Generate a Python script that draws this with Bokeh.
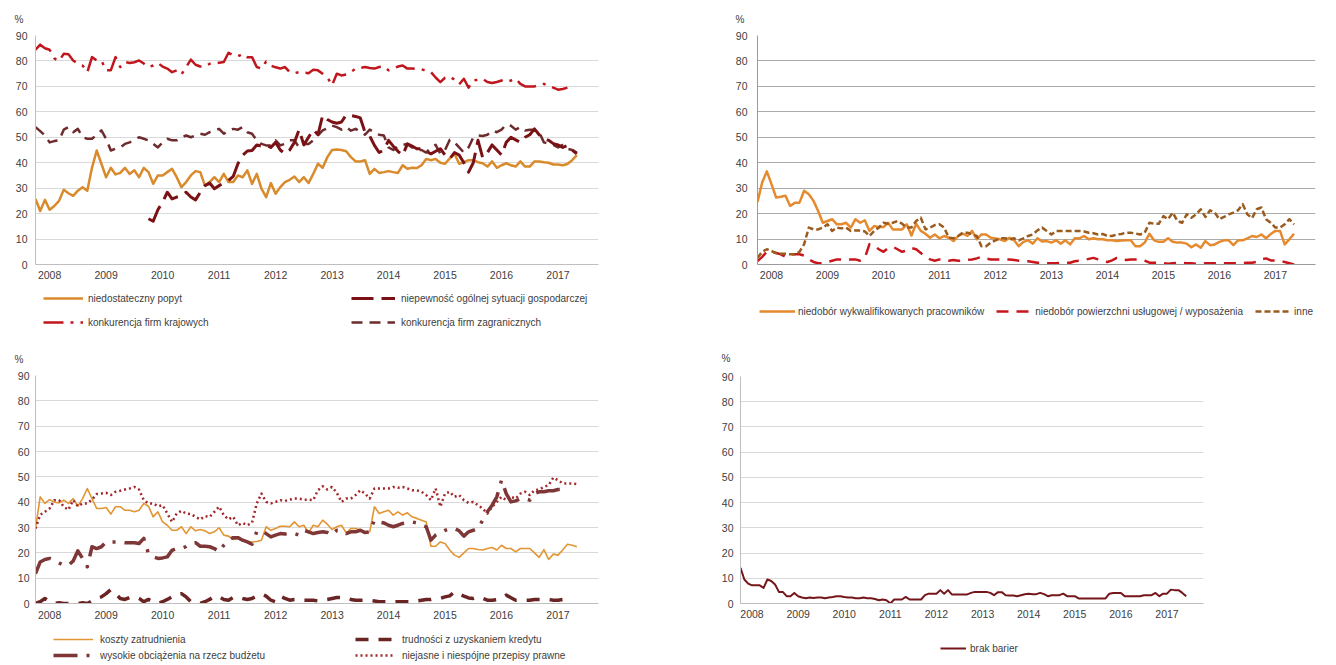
import numpy as np
from bokeh.plotting import figure
from bokeh.layouts import column, row
from bokeh.models import Range1d, Legend, LegendItem, FixedTicker
from bokeh.embed import file_html
from bokeh.resources import INLINE

NaN = float("nan")

# ---------------- data ----------------
years = ["2008", "2009", "2010", "2011", "2012", "2013", "2014", "2015", "2016", "2017"]
year_ticks = [3, 15, 27, 39, 51, 63, 75, 87, 99, 111]

# panel 1
popyt = [25.8, 21, 25.4, 21.5, 23, 25, 29.4, 28, 27, 29, 30.4, 29, 38, 44.8, 39.6, 34.3, 38, 35.4, 36, 38,
         35.6, 37, 34.3, 38, 36.3, 31.7, 35, 35, 36.3, 37.6, 34.3, 30.4, 32.4, 35, 36.7, 36.3, 31, 32.4, 34.3, 32.4,
         35.6, 32.4, 32.4, 35, 34.3, 37, 31.7, 35.6, 29.8, 26.5, 32, 27.8, 30.4, 32.4, 33.3, 34.6, 32.4, 34.3, 32, 35.6,
         39.6, 38, 42.2, 45, 45.2, 45, 44.5, 42.2, 40.5, 40.5, 41, 35.6, 37.6, 36, 36.3, 36.7, 36.3, 36, 39, 37.6,
         38, 37.9, 39, 41.5, 41, 41.5, 40, 39.6, 41.7, 43.5, 39.6, 40.2, 41, 41, 40.2, 39.8, 38.5, 40.5, 38, 39,
         39.8, 39, 38.5, 40.5, 38.5, 38.5, 40.5, 40.5, 40.2, 40, 39.3, 39.3, 39, 39.5, 41, 43]
niepewnosc = [NaN] * 24 + [
    18, 17, 21.5, 24.5, 28.4, 25.8, 26.5, 27, 28.4, 26.5,
    25.4, 28.4, 31, 32, 29.8, 31, 32, 33, 34.6, 39.6,
    42.9, 44.6, 44.8, 47, 46.5, 47, 46, 48, 45, 43.5,
    45, 48, 53, 47, 50, 53, 51, 58.6, 57, 56,
    55.5, 56, 58.8, 58.5, 58.2, 57.6, 52, 50.5, 46.8, 44,
    45, 48.8, 46.5, 44.5, 42.9, 47.4, 46.5, 45.5, 45.5, 44.5,
    43.5, 44.5, 45.5, 43, 41.5, 44, 43, 40, 36.3, 40,
    48.8, 42, 44, 47, 45, 43, 48, 50, 49, 48,
    50, 51, 53.3, 51, 49.5, 48.8, 47.5, 47, 46, 46.8,
    45, 43.5]
krajowe = [84.4, 86.4, 85, 84.4, 81, 80, 82.8, 82.6, 80.2, 79,
           78.2, 75.6, 81.5, 80.2, 80.2, 76.3, 76.3, 81.5, 77.6, 79.6,
           79.2, 79.5, 80.2, 79, 77.6, 78.2, 79.2, 77.8, 77, 75.6,
           76.3, 74.7, 77.6, 80.5, 78.5, 77.8, 77.8, 78.9, 79, 79.3,
           79.6, 83.2, 82.2, 81.8, 82.8, 81.5, 81.5, 77.6, 77, 79.8,
           78.2, 77.5, 77, 77.6, 75.6, 75.2, 75.6, 75.4, 75.2, 76.5,
           76.3, 75, 73.6, 70.4, 75, 74.3, 74.7, 75.6, 77, 77.3,
           77.6, 77.2, 77, 77.6, 77.8, 76.3, 77, 77.8, 78.2, 77,
           77, 76.8, 76.7, 76.2, 75.6, 73.5, 71.7, 73.4, 73.9, 72.6,
           70.8, 73, 69.5, 72.3, 72.6, 73, 71.7, 71.3, 71.7, 72.3,
           71.7, 72.3, 73, 71, 70, 70, 70, 70.5, 71, 70,
           69.5, 68.7, 69, 69.5]
zagraniczne = [54, 52.4, 50.7, 48, 48.5, 48.8, 53, 54, 52, 53.3,
               50, 49.4, 49.4, 51, 52.7, 49.4, 44.8, 45.5, 46, 47.4,
               48, 49, 50, 49.4, 48.8, 47.4, 46, 48, 49.4, 48.8,
               48.8, 50, 50.7, 50, 50.7, 51.4, 51, 52, 52.7, 53.3,
               51.4, 52.7, 53.3, 53, 54, 52, 51.4, 48.8, 47.4, 46.8,
               46.8, 48.8, 46.8, 47.4, 48.8, 48.8, 46, 47.4, 47.4, 48.8,
               50.7, 52.7, 53.5, 54.6, 54, 53, 54, 52.6, 53.3, 52,
               51, 53, 52, 51, 50.7, 46, 45, 46.5, 47, 47.4,
               46, 45, 45, 44, 46, 47, 43.5, 45, 49, 48,
               46, 44, 46, 50, 50.7, 50.5, 51, 52.6, 52, 53,
               55, 54.5, 53, 54, 52.7, 53, 53, 52, 48, 47.5,
               47, 46, 47, 45.5, 45, 44]

# panel 2
pracownicy = [24.6, 32.2, 36.6, 31.6, 26.3, 26.6, 27, 23, 24.3, 24.3,
              29, 27.6, 25, 21, 16.4, 17.1, 17.8, 15.8, 15.8, 16.4,
              14.5, 17.8, 16.4, 17.4, 13.2, 15.1, 14.7, 14.7, 16.4, 13.8,
              13.8, 13.8, 15.8, 11.4, 16, 13.2, 12.1, 10.5, 11.8, 10.3,
              11.2, 10.5, 9.2, 11.2, 12.1, 11.2, 13.2, 9.9, 11.8, 11.8,
              10.5, 10.2, 9.9, 9.2, 10.5, 9.5, 7.2, 8.9, 9.5, 8.2,
              10.3, 9, 9.2, 8.6, 9.5, 8.2, 9.5, 7.9, 10.3, 10.3,
              11.2, 9.9, 10.3, 9.9, 9.9, 9.5, 9.5, 9.2, 9.4, 9.5, 9.5,
              7.2, 7.2, 8.6, 12.1, 9.5, 8.9, 8.9, 10.3, 8.9, 8.6,
              8.6, 8.2, 6.8, 7.9, 6.6, 9.2, 7.6, 7.9, 8.9, 9.5,
              9.5, 7.6, 9.5, 9.5, 10.3, 11.2, 10.8, 11.8, 10.3, 12,
              13.2, 13.2, 7.9, 9.9, 12.1]
powierzchnia = [1.3, 3, 5, 5, 4.5, 4, 3, 4, 4, 4,
                3.5, 2, 1, 0.5, 0.5, 1, 1.5, 2, 2, 2,
                2, 2, 1.5, 2.5, 8, 7.5, 6, 5, 6.5, 7,
                6, 5, 5.5, 6.5, 6, 4.5, 3, 2, 1.5, 2,
                1.5, 1.5, 1.8, 1.5, 1.5, 1.8, 2, 2.4, 3, 2.4,
                2, 2, 2, 2, 2, 1.8, 1.5, 1.3, 1.3, 1,
                0.7, 0.7, 0.5, 0.5, 0.5, 0.7, 0.7, 0.7, 1.3, 1.5,
                1.8, 2.2, 2.6, 2, 1.3, 1, 1.6, 2.6, 2, 1.8,
                2, 2, 2, 1.5, 0.7, 0.7, 0.7, 0.5, 0.3, 0.5,
                0.7, 0.7, 0.5, 0.5, 0.3, 0.3, 0.5, 0.5, 0.5, 0.5,
                0.5, 0.5, 0.5, 0.5, 0.5, 0.7, 0.7, 1, 2, 2.4,
                1.6, 1.6, 1.3, 1, 0.5, 0]
inne = [2.6, 5, 6, 5.3, 4.5, 4.2, 4.2, 4, 4, 5,
        8, 14.5, 13.8, 13.8, 14.5, 15.8, 13.2, 14.5, 14.2, 14.5,
        13.2, 13.4, 13.4, 13, 11.2, 13.2, 14.5, 16.4, 16, 16.4,
        17.1, 16, 14.5, 14.5, 17.1, 18.4, 13.8, 14.5, 15.5, 15.8,
        14.5, 10.5, 10.3, 11.2, 12.5, 12.5, 11.8, 11.2, 7.2, 7.2,
        8.6, 9.5, 10.3, 10.3, 9.9, 10.3, 9.5, 10.3, 11.2, 11.8,
        13.4, 14.5, 13.2, 11.8, 13.2, 13.2, 13.2, 13.2, 13.2, 13.2,
        13, 12.5, 12.3, 11.8, 12, 11.2, 11.2, 11.8, 12, 12.5,
        12.5, 12.2, 11.8, 12.5, 16.4, 16, 16, 19, 17.8, 20.4,
        17.1, 16.4, 19.7, 18.4, 19.7, 21.7, 18.7, 21.3, 20.4, 17.8,
        18.7, 19.7, 20.4, 21.3, 23.7, 19.7, 18.2, 21.7, 22.4, 17.8,
        16.4, 14.5, 14.5, 15.8, 17.8, 15.8]

# panel 3
koszty = [29.6, 42.1, 39.5, 41, 40, 39.7, 40.8, 39.5, 41.4, 38.4,
          41.4, 45.4, 41.4, 37.5, 37.5, 37.9, 35.3, 38.2, 38.2, 36.8,
          36.8, 36.2, 36.8, 39.5, 38.4, 34.2, 36.2, 32.2, 30.9, 28.9,
          28.9, 30.3, 27.6, 30.3, 28.7, 29.2, 28.7, 27.6, 28.3, 29.9,
          27, 26.6, 25.3, 25.7, 24.7, 24.3, 24.3, 24.5, 25, 30.3,
          28.9, 29.6, 30.5, 30.5, 30.3, 32.2, 30.3, 30.9, 27.9, 30.9,
          30.3, 32.9, 31.3, 29.2, 30.3, 30.9, 27.9, 29.6, 29.6, 29,
          28.3, 28.3, 38.2, 35.5, 36.2, 36.8, 34.9, 36.2, 34.9, 35.8,
          34.2, 33.6, 32.9, 32.2, 22.6, 22.6, 24.3, 23.7, 21.1, 19.1,
          18.2, 20, 21.7, 21.7, 21.3, 21.1, 21.7, 22.1, 21.1, 23,
          21.7, 21.7, 20.4, 21.7, 21.7, 21.7, 20, 18.2, 21.3, 17.4,
          19.5, 19.1, 21.1, 23.4, 23, 22.4]
kredyt = [0, 0.7, 2, 0.7, 0, 0.3, 0, 0, 0.3, 0,
          0.3, 0, 1, 2, 2.6, 3.9, 5.5, 3.9, 2, 1.6,
          2.4, 2.6, 2, 0.7, 1.6, 0.7, 0, 0.7, 1.6, 2.6,
          3.7, 3.9, 2.6, 0.7, 0, 0, 0.7, 1.6, 2.9, 2.6,
          1.6, 1.3, 2.4, 2.6, 2, 1.6, 2, 2.9, 3.7, 2.9,
          1.3, 0.7, 2.9, 2, 1.3, 1.6, 1.6, 1.3, 1.3, 1.3,
          1, 1.3, 1.6, 2, 2.4, 2.4, 2.4, 1.6, 1.3, 1.3,
          1.3, 1.3, 1, 0.7, 0.7, 0.7, 0.7, 0.7, 0.7, 0.7,
          0.7, 1, 1.3, 1.6, 1.6, 2, 2, 2.6, 3, 4.6,
          3.7, 2.9, 2.2, 2, 2.6, 2, 1.3, 1.3, 1.5, 2,
          3.3, 2.3, 1.3, 1.3, 1.3, 1.3, 1.6, 1.6, 1.6, 1.6,
          1.3, 1.3, 1.6, 1.6]
budzet = [11.8, 16.4, 17.4, 17.8, 17, 16, 15.1, 15.1, 16.8, 20.8,
          17.8, 14.5, 22.4, 21.7, 22.4, 24.3, 24.3, 24.3, 24.3, 24,
          24, 24, 23.7, 25.7, 19.7, 18.4, 17.8, 18, 18.4, 21,
          21.7, 21.7, 22.5, 23.7, 24, 22.6, 22.6, 22.4, 21.7, 20.4,
          23, 25, 26, 26, 25, 24.3, 23.4, 28.3, 28.9, 27.6,
          26.3, 27, 27.6, 27.4, 27.9, 27.6, 27, 28.9, 28.3, 27.6,
          28, 28.3, 28, 27, 28.9, 28.8, 27.6, 28.3, 28.3, 28.9,
          28, 28.3, 32.9, 32.2, 31.8, 30.9, 30.3, 30.9, 31.6, 32,
          32.2, 31.8, 30.9, 30.3, 25, 27, 27.9, 28.9, 29.6, 29.6,
          28.7, 26.6, 28.3, 28.9, 29.6, 32.9, 36.2, 38.8, 42.1, 48.7,
          43.4, 40.1, 40.5, 41.4, 41.4, 40.8, 43.4, 44.1, 44.1, 44.5,
          44.5, 45, 45, 44.5]
przepisy = [29.6, 35, 36.2, 37.5, 40.8, 40.8, 38.2, 37, 40.8, 38.4,
            39.5, 39.5, 41, 43.2, 43.4, 43.7, 42.8, 44.1, 44.5, 45,
            45.4, 46, 45, 40.8, 39.5, 39.5, 38.4, 38.8, 35.5, 32.2,
            35.5, 36.6, 35.5, 35.3, 34.2, 33.2, 34.5, 34.2, 36.2, 38.2,
            34.9, 33.2, 34.2, 30.9, 31.8, 30.9, 31.8, 39.5, 43.4, 40.1,
            39.5, 40.1, 40.8, 40.5, 41, 41.4, 41.4, 41, 41, 40.8,
            44.7, 46.3, 45, 46, 43.7, 40.1, 41.4, 41.4, 42.8, 44.7,
            43.4, 41.4, 45.4, 45.4, 45.4, 45.4, 46, 45.7, 46, 45.4,
            44.7, 44.7, 44.1, 42.8, 40.8, 45.4, 38.2, 43.4, 44.1, 42.1,
            42.8, 40.8, 39.7, 40.1, 38.8, 37.5, 35.5, 38.2, 40.1, 42.1,
            40.8, 42.1, 41.4, 43.4, 44.1, 42.8, 44.7, 45, 46, 46.7,
            49.7, 48.7, 47.4, 47.4, 47.4, 47.1]

# panel 4
brak_barier = [14.1, 9.5, 7.9, 7.2, 7.2, 7.2, 6.2, 9.5, 8.9, 7.5,
               4.6, 4.6, 2.9, 2.9, 4.2, 2.9, 2.4, 2.1, 2.4, 2.2,
               2.4, 2.4, 2.1, 2.4, 2.6, 2.9, 2.9, 2.6, 2.4, 2.4,
               2.1, 2.1, 2.4, 2.1, 2.1, 1.8, 1.3, 1.6, 1.3, 0,
               1.6, 1.6, 1.6, 2.6, 1.6, 1.6, 1.6, 1.6, 3.3, 3.9,
               3.9, 3.9, 5.3, 3.9, 5.3, 3.6, 3.6, 3.6, 3.6, 3.6,
               4.2, 4.6, 4.6, 4.6, 4.6, 4.2, 3.3, 4.5, 4.5, 3.3,
               3.2, 3.2, 2.9, 3.3, 3.7, 3.9, 3.7, 3.7, 4.2, 3.7,
               2.9, 3.3, 3.3, 3.3, 3.9, 2.9, 2.9, 2.9, 2, 2,
               2, 2, 2, 2, 2, 2, 3.9, 4.2, 4.2, 4.2,
               2.9, 2.9, 2.9, 2.9, 2.9, 3.3, 3.3, 3.3, 4.2, 2.9,
               3.9, 3.9, 5.5, 5.3, 5.3, 4.2, 2.9]

FONT = "Liberation Sans"
TXT = "#404040"

# series styles: (colour, width, dash)
STY = {
    "popyt": ("#D98A2B", 2.5, "solid"),
    "niepewnosc": ("#7A1114", 3, "22 8"),
    "krajowe": ("#C0161E", 2.5, "20 7 3 7"),
    "zagraniczne": ("#6E2B2E", 2.5, "11 7"),
    "pracownicy": ("#E58A2E", 2.5, "solid"),
    "powierzchnia": ("#C8161D", 2.5, "12 8"),
    "inne": ("#9A5B1E", 2.5, "6 3"),
    "koszty": ("#E39534", 1.6, "solid"),
    "kredyt": ("#6A2424", 3.5, "13 10"),
    "budzet": ("#7E3636", 3.5, "24 9 3 9"),
    "przepisy": ("#A3262B", 2.5, "2 3"),
    "brak": ("#75161A", 2, "solid"),
}


def base_fig(fw, fh, bl, br, bt, bb, xmax, grid_col, axis_col, ystand, xstand, pct_off, pct_stand):
    p = figure(frame_width=fw, frame_height=fh,
               min_border_left=bl, min_border_right=br, min_border_top=bt, min_border_bottom=bb,
               x_range=Range1d(0, xmax), y_range=Range1d(0, 90),
               output_backend="svg", toolbar_location=None, tools="", title="%")
    p.title.align = "left"
    p.title.offset = pct_off
    p.title.standoff = pct_stand
    p.title.text_font = FONT
    p.title.text_font_size = "10px"
    p.title.text_font_style = "normal"
    p.title.text_color = TXT
    p.outline_line_color = None
    p.background_fill_color = "white"
    p.border_fill_color = "white"
    p.xgrid.grid_line_color = None
    yt = FixedTicker(ticks=list(range(0, 91, 10)))
    p.yaxis.ticker = yt
    p.ygrid.ticker = yt
    p.ygrid.grid_line_color = grid_col
    p.ygrid.grid_line_width = 1
    p.xaxis.ticker = FixedTicker(ticks=year_ticks)
    p.xaxis.major_label_overrides = {t: y for t, y in zip(year_ticks, years)}
    for ax in (p.xaxis[0], p.yaxis[0]):
        ax.major_tick_line_color = None
        ax.minor_tick_line_color = None
        ax.major_tick_out = 0
        ax.major_tick_in = 0
        ax.axis_line_color = axis_col
        ax.major_label_text_font = FONT
        ax.major_label_text_font_size = "10.5px"
        ax.major_label_text_color = TXT
    p.yaxis.major_label_standoff = ystand
    p.xaxis.major_label_standoff = xstand
    return p


def draw(p, key, vals):
    c, w, d = STY[key]
    return p.line(np.arange(len(vals), dtype=float), np.array(vals, dtype=float),
                  line_color=c, line_width=w, line_dash=d, line_join="round")


def legend_fig(w, h):
    # legend strip under a chart; its frame is aligned with the chart's frame by the column layout
    f = figure(width=w, height=h, x_range=Range1d(0, 1), y_range=Range1d(0, 1),
               x_axis_type=None, y_axis_type=None, output_backend="svg",
               toolbar_location=None, tools="", title=None,
               min_border_left=0, min_border_right=0, min_border_top=0, min_border_bottom=0)
    f.outline_line_color = None
    f.background_fill_color = "white"
    f.border_fill_color = "white"
    return f


def add_legend(f, entries, loc, orientation="vertical", gw=40, gh=14, standoff=5, spacing=10):
    items = []
    for label, key in entries:
        c, w, d = STY[key]
        r = f.line([NaN], [NaN], line_color=c, line_width=w, line_dash=d)
        items.append(LegendItem(label=label, renderers=[r]))
    lg = Legend(items=items, location=loc, orientation=orientation,
                glyph_width=gw, glyph_height=gh, label_height=gh, label_standoff=standoff,
                spacing=spacing, padding=0, margin=0,
                background_fill_alpha=0, border_line_alpha=0,
                label_text_font=FONT, label_text_font_size="10px", label_text_color=TXT)
    f.add_layout(lg, "center")


# ---------------- panel 1 ----------------
p1 = base_fig(563, 229, 35, 30, 35, 26, 119.6, "#D9D9D9", "#BFBFBF", 8, 6, -21, 22)
draw(p1, "popyt", popyt)
draw(p1, "krajowe", krajowe)
draw(p1, "zagraniczne", zagraniczne)
draw(p1, "niepewnosc", niepewnosc)
l1 = legend_fig(628, 45)
add_legend(l1, [("niedostateczny popyt", "popyt"), ("konkurencja firm krajowych", "krajowe")], (8, 6))
add_legend(l1, [("niepewność ogólnej sytuacji gospodarczej", "niepewnosc"),
                ("konkurencja firm zagranicznych", "zagraniczne")], (316, 6), gw=44, standoff=6)

# ---------------- panel 2 ----------------
p2 = base_fig(558, 229, 129, 21, 35, 26, 119.6, "#ABABAB", "#9A9A9A", 10, 6, -22, 22)
draw(p2, "pracownicy", pracownicy)
draw(p2, "powierzchnia", powierzchnia)
draw(p2, "inne", inne)
l2 = legend_fig(708, 45)
add_legend(l2, [("niedobór wykwalifikowanych pracowników", "pracownicy"),
                ("niedobór powierzchni usługowej / wyposażenia", "powierzchnia"),
                ("inne", "inne")], (2, 17), orientation="horizontal", gw=36, standoff=3, spacing=12)

# ---------------- panel 3 ----------------
p3 = base_fig(563, 228, 35, 30, 40, 26, 119.6, "#D9D9D9", "#BFBFBF", 6, 7, -21, 21)
draw(p3, "koszty", koszty)
draw(p3, "przepisy", przepisy)
draw(p3, "budzet", budzet)
draw(p3, "kredyt", kredyt)
l3 = legend_fig(628, 36)
add_legend(l3, [("koszty zatrudnienia", "koszty"), ("wysokie obciążenia na rzecz budżetu", "budzet")],
           (18, 4), gh=12, spacing=4, standoff=7)
add_legend(l3, [("trudności z uzyskaniem kredytu", "kredyt"),
                ("niejasne i niespójne przepisy prawne", "przepisy")],
           (320, 4), gh=12, spacing=4, standoff=7)

# ---------------- panel 4 ----------------
p4 = base_fig(463, 227, 112, 133, 41, 26, 120.5, "#D9D9D9", "#BFBFBF", 7, 6, -19, 26)
draw(p4, "brak", brak_barier)
l4 = legend_fig(708, 36)
add_legend(l4, [("brak barier", "brak")], (200, 10), gw=26, standoff=4)

layout = column(row(column(p1, l1), column(p2, l2)), row(column(p3, l3), column(p4, l4)))
open("out.html", "w").write(file_html(layout, INLINE))
